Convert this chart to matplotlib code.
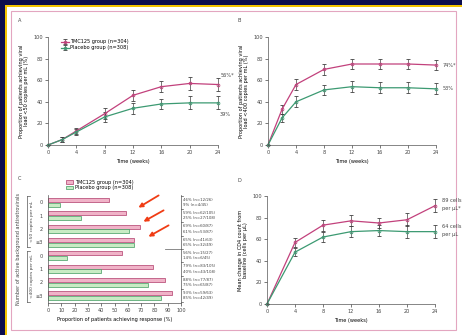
import numpy as np
import matplotlib
matplotlib.use("Agg")
from matplotlib import pyplot as plt
from matplotlib.patches import Rectangle, FancyArrowPatch
from matplotlib.lines import Line2D

# data
weeks_a = [0, 2, 4, 8, 12, 16, 20, 24]
tmc_a = [0, 5, 13, 29, 46, 54, 57, 56]
pla_a = [0, 5, 12, 26, 34, 38, 39, 39]
err_a = [0, 2, 3, 5, 5, 5, 6, 6]

weeks_b = [0, 2, 4, 8, 12, 16, 20, 24]
tmc_b = [0, 33, 56, 70, 75, 75, 75, 74]
pla_b = [0, 25, 40, 51, 54, 53, 53, 52]
err_b = [0, 4, 5, 5, 5, 5, 5, 5]

weeks_d = [0, 4, 8, 12, 16, 20, 24]
tmc_d = [0, 57, 73, 77, 75, 78, 91]
pla_d = [0, 48, 62, 67, 68, 67, 67]
err_d = [0, 4, 5, 5, 5, 6, 6]

cats_c = ["0", "1", "2", "\u22653", "0", "1", "2", "\u22653"]
tmc_c = [46, 59, 69, 65, 56, 79, 88, 93]
pla_c = [9, 25, 61, 65, 14, 40, 75, 85]
tmc_lab = ["46% (n=12/26)", "59% (n=62/105)", "69% (n=60/87)", "65% (n=41/63)",
           "56% (n=15/27)", "79% (n=83/105)", "88% (n=77/87)", "93% (n=59/63)"]
pla_lab = ["9% (n=4/45)", "25% (n=27/108)", "61% (n=53/87)", "65% (n=32/49)",
           "14% (n=6/45)", "40% (n=43/108)", "75% (n=65/87)", "85% (n=42/49)"]

tmc_name = "TMC125 group (n=304)"
pla_name = "Placebo group (n=308)"

PINK = "#c2417c"
GREEN = "#3c9a72"
ERR = "#404040"
fs = 3.6

plt.rcParams["font.family"] = "DejaVu Sans"
plt.rcParams["font.size"] = fs

W, H = 462, 335
fig = plt.figure(figsize=(4.62, 3.35), dpi=100)
fig.patch.set_facecolor("#0b0c4e")


def px(x, y):
    return x / W, 1 - y / H


fig.patches.append(Rectangle(px(5, 335), 1, 1 - 5 / H, transform=fig.transFigure,
                             facecolor="#f2c200", edgecolor="none", zorder=-3))
fig.patches.append(Rectangle(px(7, 335), 1, 1 - 7 / H, transform=fig.transFigure,
                             facecolor="white", edgecolor="none", zorder=-2))
fig.patches.append(Rectangle(px(11, 330), (456 - 11) / W, (330 - 11) / H,
                             transform=fig.transFigure, facecolor="none",
                             edgecolor="#e3a6c0", lw=0.8, zorder=-1))


def style(ax):
    for s in ["top", "right"]:
        ax.spines[s].set_visible(False)
    for s in ["left", "bottom"]:
        ax.spines[s].set_linewidth(0.5)
        ax.spines[s].set_color("#555555")
    ax.tick_params(length=2, width=0.5, pad=1.5, labelsize=fs, colors="#444444")
    ax.set_facecolor("none")


def line_panel(rect, weeks, tmc, pla, err, ylabel, xticks):
    ax = fig.add_axes(rect)
    style(ax)
    ax.errorbar(weeks, tmc, yerr=err, color=PINK, ecolor=ERR, lw=0.9, marker="o",
                ms=2, mfc="none", mew=0.6, elinewidth=0.5, capsize=1.2, capthick=0.5,
                clip_on=False, label=tmc_name)
    ax.errorbar(weeks, pla, yerr=err, color=GREEN, ecolor=ERR, lw=0.9, marker="o",
                ms=2, mfc="none", mew=0.6, elinewidth=0.5, capsize=1.2, capthick=0.5,
                clip_on=False, label=pla_name)
    ax.set_xlim(0, 24)
    ax.set_ylim(0, 100)
    ax.set_xticks(xticks)
    ax.set_yticks([0, 20, 40, 60, 80, 100])
    ax.set_xlabel("Time (weeks)", fontsize=fs, labelpad=3)
    ax.set_ylabel(ylabel, fontsize=fs, labelpad=3)
    return ax


axA = line_panel([48 / W, 1 - 145 / H, 170 / W, 108 / H], weeks_a, tmc_a, pla_a, err_a,
                 "Proportion of patients achieving viral\nload <50 copies per mL (%)",
                 [0, 4, 8, 12, 16, 20, 24])
axA.legend(loc="upper left", bbox_to_anchor=(0.05, 1.02), frameon=False, fontsize=fs,
           handlelength=1.5, handletextpad=0.4, labelspacing=0.2)
axA.text(24.3, tmc_a[-1] + 7, "56%*", fontsize=fs, color="#444444")
axA.text(24.3, pla_a[-1] - 12, "39%", fontsize=fs, color="#444444")

axB = line_panel([268 / W, 1 - 145 / H, 168 / W, 108 / H], weeks_b, tmc_b, pla_b, err_b,
                 "Proportion of patients achieving viral\nload <400 copies per mL (%)",
                 [0, 4, 8, 12, 16, 20, 24])
axB.text(25, tmc_b[-1], "74%*", fontsize=fs, color="#444444", va="center")
axB.text(25, pla_b[-1], "53%", fontsize=fs, color="#444444", va="center")

axD = line_panel([267 / W, 1 - 304 / H, 168 / W, 108 / H], weeks_d, tmc_d, pla_d, err_d,
                 "Mean change in CD4 count from\nbaseline (cells per \u03bcL)",
                 [0, 4, 8, 12, 16, 20, 24])
axD.text(25, tmc_d[-1] + 1, "89 cells\nper \u03bcL*", fontsize=fs, color="#444444",
         va="center", linespacing=1.6)
axD.text(25, pla_d[-1] + 1, "64 cells\nper \u03bcL", fontsize=fs, color="#444444",
         va="center", linespacing=1.6)

# panel C
axC = fig.add_axes([48 / W, 1 - 303 / H, 133 / W, 108 / H])
style(axC)
axC.spines["right"].set_visible(True)
axC.spines["right"].set_linewidth(0.5)
axC.spines["right"].set_color("#555555")
n = len(cats_c)
pos = np.arange(n)[::-1] * 1.0
h = 0.3
axC.barh(pos + h / 2 + 0.02, tmc_c, height=h, color="#f0b3c8", edgecolor="#b03a6a",
         lw=0.5, label=tmc_name)
axC.barh(pos - h / 2 - 0.02, pla_c, height=h, color="#c8ebc4", edgecolor="#3f9b5f",
         lw=0.5, label=pla_name)
axC.set_xlim(0, 100)
axC.set_ylim(-0.55, n - 0.45)
axC.set_xticks(np.arange(0, 101, 10))
axC.set_yticks(pos)
axC.set_yticklabels(cats_c)
axC.tick_params(axis="y", length=0, pad=4)
axC.set_xlabel("Proportion of patients achieving response (%)", fontsize=fs, labelpad=3)
axC.legend(loc="lower left", bbox_to_anchor=(0.1, 1.0), frameon=False, fontsize=fs,
           handlelength=1.5, handleheight=0.6, handletextpad=0.4, labelspacing=0.15)
for p, a, b in zip(pos, tmc_lab, pla_lab):
    axC.text(101.5, p + 0.2, a, fontsize=2.8, va="center", color="#444444", clip_on=False)
    axC.text(101.5, p - 0.2, b, fontsize=2.8, va="center", color="#444444", clip_on=False)
for b in np.arange(n + 1) - 0.5:
    axC.plot([100, 101.5], [b, b], color="#555555", lw=0.5, clip_on=False)
axC.plot([88, 100], [3.5, 3.5], color="#777777", lw=0.6, clip_on=False)

# group brackets and labels left of panel C
for y0, y1, lab in [(196, 247, "<50 copies per mL"), (251, 302, "<400 copies per mL")]:
    fig.add_artist(Line2D([27 / W, 27 / W], [1 - y0 / H, 1 - y1 / H], lw=0.5,
                          color="#555555"))
    for yy in (y0, y1):
        fig.add_artist(Line2D([27 / W, 30 / W], [1 - yy / H, 1 - yy / H], lw=0.5,
                              color="#555555"))
    fig.text(30 / W, 1 - (y0 + y1) / 2 / H, lab, rotation=90, va="center", ha="left",
             fontsize=3.2, color="#444444")
fig.text(19 / W, 1 - 249 / H, "Number of active background antiretrovirals", rotation=90,
         va="center", ha="center", fontsize=fs, color="#444444")

# red arrows in panel C
for (x0, y0, x1, y1) in [(161, 194, 136, 209), (166, 209, 141, 223), (171, 224, 146, 238)]:
    fig.add_artist(FancyArrowPatch(
        px(x0, y0), px(x1, y1), transform=fig.transFigure, arrowstyle="-|>",
        mutation_scale=6, color="#f03c14", lw=1.3))

# panel letters
for x, y, t in [(18, 20, "A"), (237, 20, "B"), (18, 178, "C"), (237, 180, "D")]:
    fig.text(x / W, 1 - y / H, t, fontsize=fs, color="#444444", va="center")

fig.savefig("out.png", dpi=100, facecolor=fig.get_facecolor())
